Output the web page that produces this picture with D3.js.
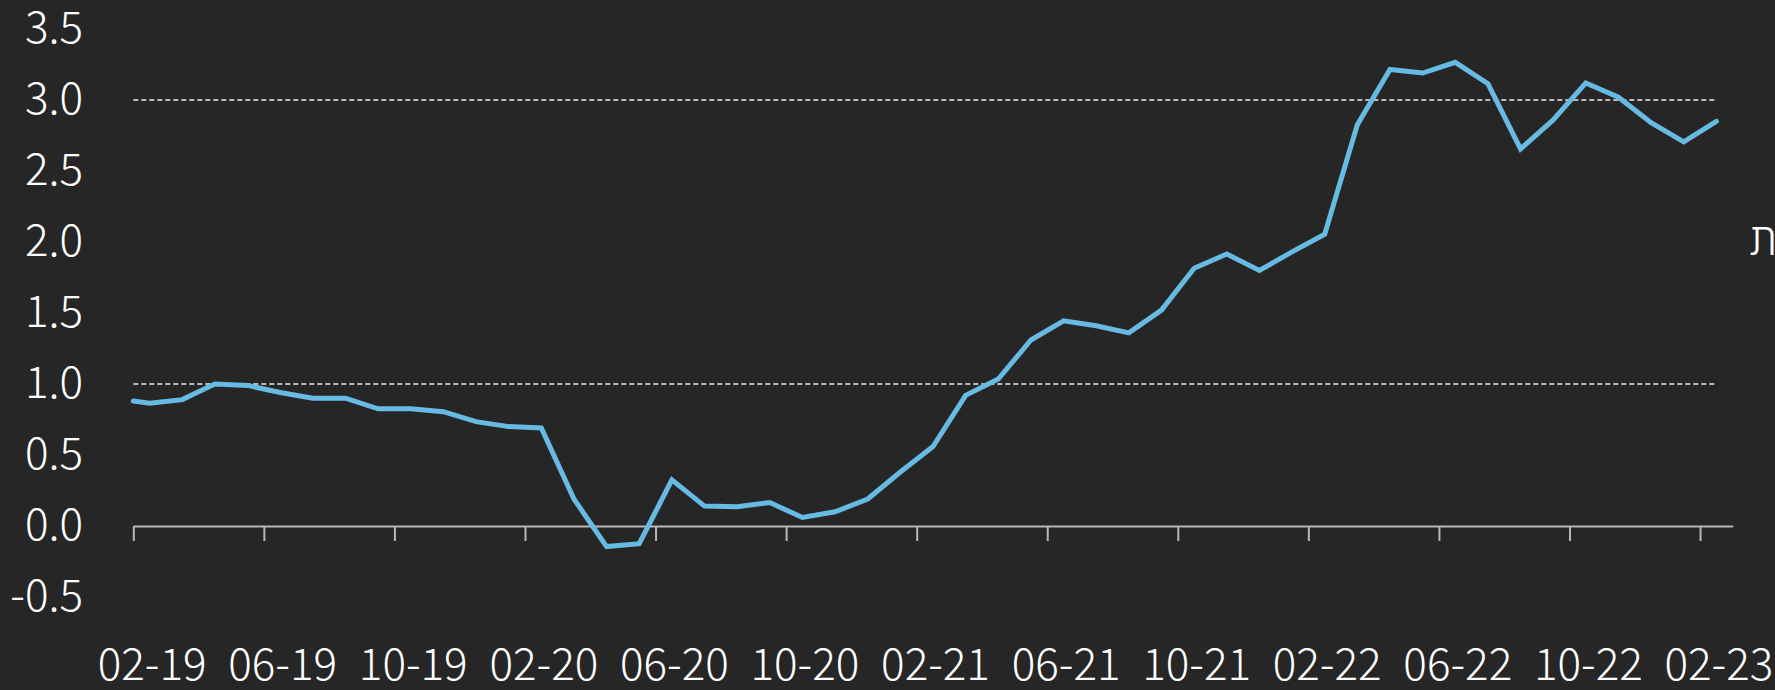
<!DOCTYPE html>
<html>
<head>
<meta charset="utf-8">
<script src="https://cdn.jsdelivr.net/npm/d3@7"></script>
<style>
  html, body { margin: 0; padding: 0; background: #262626; }
  svg { display: block; }
</style>
</head>
<body>
<svg id="chart" width="1775" height="690"></svg>
<script>
// ---- data ----
const dates = [
  "2019-02-01",
  "2019-02-15","2019-03-15","2019-04-15","2019-05-15","2019-06-15","2019-07-15",
  "2019-08-15","2019-09-15","2019-10-15","2019-11-15","2019-12-15",
  "2020-01-15","2020-02-15","2020-03-15","2020-04-15","2020-05-15","2020-06-15",
  "2020-07-15","2020-08-15","2020-09-15","2020-10-15","2020-11-15","2020-12-15",
  "2021-01-15","2021-02-15","2021-03-15","2021-04-15","2021-05-15","2021-06-15",
  "2021-07-15","2021-08-15","2021-09-15","2021-10-15","2021-11-15","2021-12-15",
  "2022-01-15","2022-02-15","2022-03-15","2022-04-15","2022-05-15","2022-06-15",
  "2022-07-15","2022-08-15","2022-09-15","2022-10-15","2022-11-15","2022-12-15",
  "2023-01-15","2023-02-15"
];
const values = [
  0.88,
  0.865, 0.89, 1.0, 0.99, 0.94, 0.90, 0.90, 0.825, 0.825, 0.805, 0.735,
  0.70, 0.69, 0.19, -0.145, -0.125, 0.325, 0.14, 0.135, 0.165, 0.06, 0.10,
  0.19, 0.38, 0.56, 0.92, 1.035, 1.31, 1.445, 1.41, 1.36, 1.52, 1.815,
  1.915, 1.80, 1.93, 2.055, 2.825, 3.215, 3.19, 3.265, 3.115, 2.655, 2.86,
  3.12, 3.02, 2.84, 2.705, 2.85
];
const xTickDates = ["2019-02-01","2019-06-01","2019-10-01","2020-02-01","2020-06-01",
  "2020-10-01","2021-02-01","2021-06-01","2021-10-01","2022-02-01","2022-06-01",
  "2022-10-01","2023-02-01"];
const xTickLabels = ["02-19","06-19","10-19","02-20","06-20","10-20","02-21",
  "06-21","10-21","02-22","06-22","10-22","02-23"];
const yTickValues = [-0.5, 0, 0.5, 1, 1.5, 2, 2.5, 3, 3.5];
const yTickLabels = ["-0.5","0.0","0.5","1.0","1.5","2.0","2.5","3.0","3.5"];
const refLines = [1, 3];
const sideLabel = "ת";

// ---- helpers ----
function monthIndex(s) {
  const [Y, M, D] = s.split("-").map(Number);
  return (Y - 2019) * 12 + (M - 2) + (D - 1) / 28;
}

const svg = d3.select("#chart");
const W = 1775, H = 690;
const FONT = "'Noto Sans CJK JP', 'Noto Sans', 'Open Sans', sans-serif";
const WEIGHT = 300;
const FS = 44;

svg.append("rect").attr("width", W).attr("height", H).attr("fill", "#262626");

const x = d3.scaleLinear().domain([0, monthIndex("2023-03-01")]).range([133.3, 1732.7]);
const y = d3.scaleLinear().domain([-0.5, 3.5]).range([597, 29]);

const data = dates.map((d, i) => ({ t: monthIndex(d), v: values[i] }));
const lastT = data[data.length - 1].t;

// reference dashed lines
svg.append("g").selectAll("line").data(refLines).join("line")
  .attr("x1", x(0)).attr("x2", x(lastT))
  .attr("y1", d => y(d)).attr("y2", d => y(d))
  .attr("stroke", "#ececec").attr("stroke-width", 1.5)
  .attr("stroke-dasharray", "5,3");

// x axis
const halfMonth = x(0.5) - x(0);
const xAxis = d3.axisBottom(x)
  .tickValues(xTickDates.map(monthIndex))
  .tickFormat((d, i) => xTickLabels[i])
  .tickSizeInner(15).tickSizeOuter(0).tickPadding(0);
const gx = svg.append("g").attr("transform", `translate(0,${y(0)})`).call(xAxis);
gx.select(".domain").attr("stroke", "#b8b8b8").attr("stroke-width", 2);
gx.selectAll(".tick line").attr("stroke", "#b8b8b8").attr("stroke-width", 2);
gx.selectAll(".tick text")
  .attr("fill", "#ffffff")
  .attr("font-family", FONT)
  .attr("font-weight", WEIGHT)
  .attr("font-size", FS)
  .attr("dy", null)
  .attr("y", 154)
  .attr("x", halfMonth + 2)
  .attr("text-anchor", "middle");

// y labels
svg.append("g").selectAll("text").data(yTickValues).join("text")
  .attr("x", 83)
  .attr("y", d => y(d) + 14)
  .attr("text-anchor", "end")
  .attr("fill", "#ffffff")
  .attr("font-family", FONT)
  .attr("font-weight", WEIGHT)
  .attr("font-size", FS)
  .text((d, i) => yTickLabels[i]);

// line
const line = d3.line().x(d => x(d.t)).y(d => y(d.v));
svg.append("path").datum(data)
  .attr("d", line)
  .attr("fill", "none")
  .attr("stroke", "#67bbe3")
  .attr("stroke-width", 5)
  .attr("stroke-linejoin", "miter")
  .attr("stroke-linecap", "round");

// side label (cut off at right edge)
svg.append("text")
  .attr("x", 1750).attr("y", 255)
  .attr("text-anchor", "start")
  .attr("fill", "#ffffff")
  .attr("font-family", FONT)
  .attr("font-weight", WEIGHT)
  .attr("font-size", FS)
  .text(sideLabel);
</script>
</body>
</html>
